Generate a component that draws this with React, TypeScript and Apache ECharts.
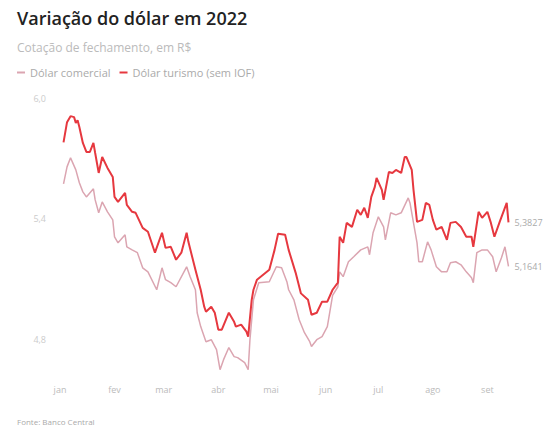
import React, { useEffect, useRef } from "react";
import * as echarts from "echarts";

const monthLabels = ["jan", "fev", "mar", "abr", "mai", "jun", "jul", "ago", "set"];
const monthStarts = ["01-01", "02-01", "03-01", "04-01", "05-01", "06-01", "07-01", "08-01", "09-01"];
const yTickValues = [4.8, 5.4, 6.0];

const turismoDates = [
  "01-03", "01-05", "01-07", "01-09", "01-10", "01-11", "01-12", "01-14", "01-16", "01-18",
  "01-20", "01-21", "01-23", "01-25", "01-28", "01-31", "02-01", "02-03", "02-07", "02-08",
  "02-11", "02-13", "02-17", "02-20", "02-24", "02-28", "03-02", "03-05", "03-08", "03-11",
  "03-14", "03-15", "03-19", "03-22", "03-24", "03-25", "03-28", "03-30", "04-01", "04-03",
  "04-07", "04-10", "04-11", "04-14", "04-17", "04-18", "04-20", "04-21", "04-23", "04-30",
  "05-03", "05-05", "05-09", "05-11", "05-15", "05-18", "05-22", "05-24", "05-27", "05-30",
  "06-02", "06-05", "06-08", "06-09", "06-11", "06-13", "06-16", "06-19", "06-21", "06-23",
  "06-25", "06-27", "06-29", "06-30", "07-03", "07-04", "07-07", "07-09", "07-11", "07-14",
  "07-16", "07-17", "07-20", "07-21", "07-23", "07-26", "07-28", "07-30", "08-01", "08-03",
  "08-06", "08-09", "08-11", "08-14", "08-17", "08-20", "08-23", "08-24", "08-27", "08-29",
  "09-01", "09-03", "09-05", "09-08", "09-12", "09-13",
];
const turismoValues = [
  5.78, 5.88, 5.91, 5.905, 5.876, 5.89, 5.856, 5.777, 5.732, 5.732,
  5.777, 5.727, 5.628, 5.707, 5.653, 5.608, 5.509, 5.484, 5.529, 5.469,
  5.435, 5.43, 5.355, 5.336, 5.232, 5.331, 5.256, 5.261, 5.197, 5.232,
  5.331, 5.286, 5.147, 5.048, 4.964, 4.939, 4.964, 4.934, 4.85, 4.85,
  4.934, 4.889, 4.865, 4.875, 4.84, 4.815, 4.998, 5.048, 5.098, 5.147,
  5.246, 5.326, 5.321, 5.246, 5.132, 5.03, 4.998, 4.924, 4.934, 4.989,
  4.989, 5.048, 5.083, 5.311, 5.281, 5.38, 5.36, 5.445, 5.42, 5.455,
  5.405, 5.509, 5.559, 5.603, 5.544, 5.494, 5.633, 5.628, 5.643, 5.628,
  5.707, 5.707, 5.643, 5.544, 5.385, 5.395, 5.479, 5.469, 5.395, 5.346,
  5.36, 5.296, 5.38, 5.385, 5.36, 5.311, 5.311, 5.261, 5.435, 5.405,
  5.435, 5.38, 5.311, 5.385, 5.479, 5.3827,
];

const comercialDates = [
  "01-03", "01-05", "01-07", "01-08", "01-10", "01-12", "01-14", "01-16", "01-20", "01-21",
  "01-23", "01-25", "01-28", "01-31", "02-01", "02-03", "02-07", "02-08", "02-11", "02-14",
  "02-17", "02-20", "02-25", "02-28", "03-02", "03-05", "03-08", "03-14", "03-16", "03-19",
  "03-20", "03-22", "03-25", "03-28", "03-31", "04-02", "04-04", "04-07", "04-10", "04-12",
  "04-16", "04-18", "04-19", "04-21", "04-24", "04-30", "05-04", "05-07", "05-10", "05-11",
  "05-14", "05-17", "05-20", "05-23", "05-24", "05-27", "05-30", "06-02", "06-05", "06-08",
  "06-09", "06-11", "06-14", "06-17", "06-21", "06-25", "06-26", "06-28", "07-01", "07-04",
  "07-05", "07-08", "07-11", "07-14", "07-18", "07-19", "07-21", "07-23", "07-24", "07-26",
  "07-29", "07-31", "08-03", "08-06", "08-09", "08-11", "08-14", "08-17", "08-20", "08-23",
  "08-24", "08-26", "08-29", "09-01", "09-04", "09-06", "09-09", "09-11", "09-13",
];
const comercialValues = [
  5.574, 5.658, 5.703, 5.683, 5.643, 5.579, 5.534, 5.509, 5.549, 5.494,
  5.43, 5.484, 5.435, 5.395, 5.311, 5.281, 5.321, 5.261, 5.246, 5.232,
  5.157, 5.137, 5.048, 5.157, 5.098, 5.083, 5.063, 5.162, 5.113, 5.048,
  4.934, 4.865, 4.79, 4.8, 4.751, 4.651, 4.701, 4.761, 4.716, 4.711,
  4.686, 4.651, 4.8, 4.998, 5.083, 5.088, 5.162, 5.157, 5.088, 5.048,
  4.998, 4.899, 4.835, 4.79, 4.766, 4.8, 4.815, 4.865, 5.02, 5.063,
  5.137, 5.113, 5.187, 5.212, 5.246, 5.261, 5.222, 5.331, 5.41, 5.36,
  5.296, 5.43, 5.42, 5.43, 5.504, 5.479, 5.38, 5.281, 5.187, 5.187,
  5.286, 5.246, 5.162, 5.137, 5.137, 5.182, 5.187, 5.172, 5.137, 5.108,
  5.083, 5.232, 5.246, 5.246, 5.212, 5.137, 5.207, 5.261, 5.1641,
];

const COLOR_TURISMO = "#e6383f";
const COLOR_COMERCIAL = "#dba5b1";
const FONT = "'Open Sans', 'Noto Sans', sans-serif";

// day of year (0 = 1 Jan 2022)
const dayOf = (md: string) =>
  Math.round((Date.UTC(2022, +md.slice(0, 2) - 1, +md.slice(3, 5)) - Date.UTC(2022, 0, 1)) / 86400000);

export default function App() {
  const ref = useRef<HTMLDivElement>(null);
  useEffect(() => {
    document.body.style.margin = "0";
    if (!ref.current) return;
    const chart = echarts.init(ref.current, null, { renderer: "svg" });
    const fmt = (v: number) => v.toFixed(4).replace(".", ",");
    const starts = monthStarts.map(dayOf);
    const endLabel = {
      show: true,
      distance: 6,
      color: "#aaa",
      fontSize: 9,
      fontFamily: FONT,
      formatter: (p: any) => fmt(Array.isArray(p.value) ? p.value[1] : p.value),
    };
    chart.setOption({
      animation: false,
      backgroundColor: "#fff",
      textStyle: { fontFamily: FONT },
      title: [
        {
          text: "Variação do dólar em 2022",
          left: 12,
          top: 4,
          textStyle: { fontSize: 18, fontWeight: 600, color: "#222", fontFamily: FONT },
        },
        {
          text: "Cotação de fechamento, em R$",
          left: 12,
          top: 36,
          textStyle: { fontSize: 12, fontWeight: 400, color: "#bbb", fontFamily: FONT },
        },
        {
          text: "Fonte: Banco Central",
          left: 12,
          top: 412,
          textStyle: { fontSize: 8, fontWeight: 400, color: "#aaa", fontFamily: FONT },
        },
      ],
      legend: {
        left: 12,
        top: 62,
        icon: "rect",
        itemWidth: 8,
        itemHeight: 2,
        itemGap: 9,
        textStyle: { fontSize: 11, color: "#aaa", fontFamily: FONT },
        data: ["Dólar comercial", "Dólar turismo (sem IOF)"],
      },
      grid: { left: 60, right: 36, top: 98, height: 282 },
      xAxis: {
        type: "value",
        min: 0,
        max: dayOf("09-15"),
        axisLine: { show: false },
        axisTick: { show: false },
        splitLine: { show: false },
        axisLabel: {
          customValues: starts,
          formatter: (v: number) => {
            const i = starts.indexOf(Math.round(v));
            return i >= 0 ? monthLabels[i] : "";
          },
          color: "#bbb",
          fontSize: 9,
          margin: 5,
        },
      },
      yAxis: {
        type: "value",
        min: 4.6,
        max: 6.0,
        axisLine: { show: false },
        axisTick: { show: false },
        splitLine: { show: false },
        axisLabel: {
          customValues: yTickValues,
          formatter: (v: number) => v.toFixed(1).replace(".", ","),
          color: "#ccc",
          fontSize: 9,
          margin: 14,
        },
      },
      series: [
        {
          name: "Dólar comercial",
          type: "line",
          showSymbol: false,
          color: COLOR_COMERCIAL,
          lineStyle: { width: 1.5, color: COLOR_COMERCIAL },
          data: comercialDates.map((d, i) => [dayOf(d), comercialValues[i]]),
          endLabel,
        },
        {
          name: "Dólar turismo (sem IOF)",
          type: "line",
          showSymbol: false,
          color: COLOR_TURISMO,
          lineStyle: { width: 2, color: COLOR_TURISMO },
          data: turismoDates.map((d, i) => [dayOf(d), turismoValues[i]]),
          endLabel,
        },
      ],
    });
    return () => chart.dispose();
  }, []);
  return <div ref={ref} style={{ width: 548, height: 427 }} />;
}
